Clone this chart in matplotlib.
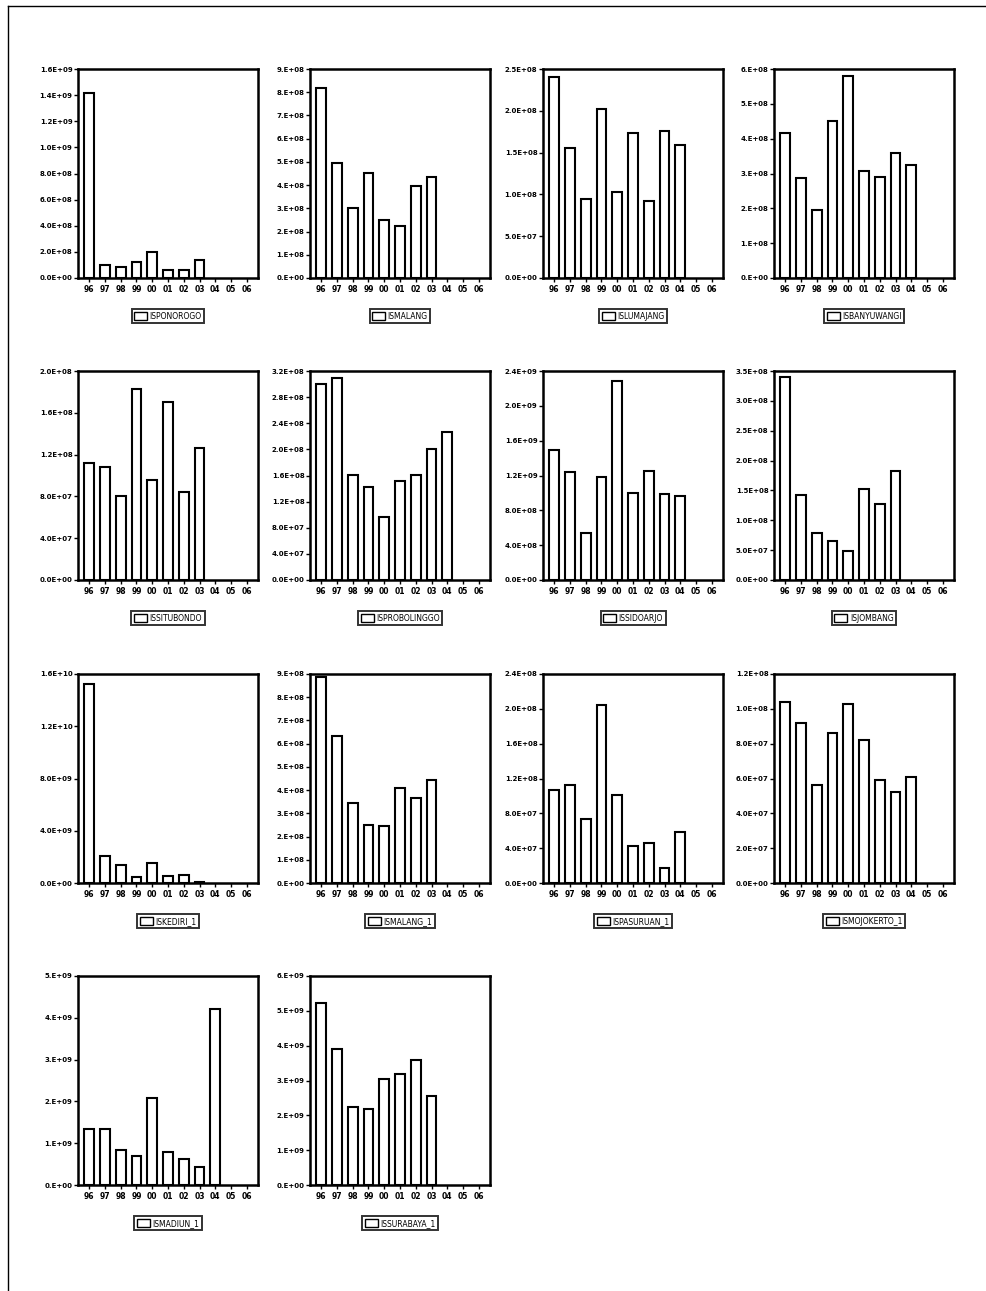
import numpy as np
import matplotlib
matplotlib.use('Agg')
import matplotlib.pyplot as plt
from matplotlib.patches import Rectangle
from matplotlib.ticker import FixedLocator, FuncFormatter

plt.rcParams['font.family'] = ['DejaVu Sans']

years = ['96', '97', '98', '99', '00', '01', '02', '03', '04', '05', '06']

names = ['ISPONOROGO', 'ISMALANG', 'ISLUMAJANG', 'ISBANYUWANGI',
         'ISSITUBONDO', 'ISPROBOLINGGO', 'ISSIDOARJO', 'ISJOMBANG',
         'ISKEDIRI_1', 'ISMALANG_1', 'ISPASURUAN_1', 'ISMOJOKERTO_1',
         'ISMADIUN_1', 'ISSURABAYA_1']

ponorogo = [1.42e9, 1.02e8, 0.82e8, 1.23e8, 2.0e8, 0.64e8, 0.61e8, 1.4e8]
malang = [8.17e8, 4.97e8, 3.01e8, 4.54e8, 2.5e8, 2.23e8, 3.96e8, 4.36e8]
lumajang = [2.4e8, 1.56e8, 0.94e8, 2.02e8, 1.03e8, 1.74e8, 0.92e8, 1.76e8, 1.59e8]
banyuwangi = [4.17e8, 2.87e8, 1.96e8, 4.5e8, 5.8e8, 3.07e8, 2.91e8, 3.6e8, 3.24e8]
situbondo = [1.12e8, 1.08e8, 0.80e8, 1.83e8, 0.955e8, 1.70e8, 0.84e8, 1.26e8]
probolinggo = [3.0e8, 3.1e8, 1.61e8, 1.42e8, 0.97e8, 1.51e8, 1.61e8, 2.0e8, 2.26e8]
sidoarjo = [1.49e9, 1.24e9, 0.54e9, 1.18e9, 2.28e9, 1.0e9, 1.25e9, 0.99e9, 0.97e9]
jombang = [3.40e8, 1.42e8, 0.79e8, 0.65e8, 0.48e8, 1.52e8, 1.27e8, 1.83e8]
kediri = [1.52e10, 2.1e9, 1.34e9, 0.46e9, 1.52e9, 0.5e9, 0.63e9, 0.06e9]
malang_1 = [8.87e8, 6.33e8, 3.43e8, 2.5e8, 2.46e8, 4.09e8, 3.67e8, 4.42e8]
pasuruan = [1.07e8, 1.12e8, 0.74e8, 2.04e8, 1.01e8, 0.42e8, 0.46e8, 0.17e8, 0.59e8]
mojokerto = [1.04e8, 0.92e8, 0.56e8, 0.86e8, 1.03e8, 0.82e8, 0.59e8, 0.52e8, 0.61e8]
madiun = [1.33e9, 1.35e9, 0.84e9, 0.70e9, 2.07e9, 0.80e9, 0.62e9, 0.42e9, 4.2e9]
surabaya = [5.23e9, 3.89e9, 2.25e9, 2.19e9, 3.04e9, 3.2e9, 3.6e9, 2.55e9]

series = [ponorogo, malang, lumajang, banyuwangi, situbondo, probolinggo,
          sidoarjo, jombang, kediri, malang_1, pasuruan, mojokerto,
          madiun, surabaya]

# y axis: top, step, decimals in the mantissa
ymax = [1.6e9, 9e8, 2.5e8, 6e8, 2.0e8, 3.2e8, 2.4e9, 3.5e8,
        1.6e10, 9e8, 2.4e8, 1.2e8, 5e9, 6e9]
ystep = [2e8, 1e8, 5e7, 1e8, 4e7, 4e7, 4e8, 5e7,
         4e9, 1e8, 4e7, 2e7, 1e9, 1e9]
ydec = [1, 0, 1, 0, 1, 1, 1, 1, 1, 0, 1, 1, 0, 0]


def sci(v, dec):
    if v == 0:
        e, m = 0, 0.0
    else:
        e = int(np.floor(np.log10(abs(v)) + 1e-9))
        m = v / 10 ** e
    if dec == 0:
        return '%d.E+%02d' % (round(m), e)
    return '%.1fE+%02d' % (m, e)


W, H = 987, 1291
fig = plt.figure(figsize=(W / 100, H / 100), dpi=100)
fig.patch.set_facecolor('white')

tops = [69, 371, 674, 976]
lefts = [78, 310, 543, 774]
aw, ah = 180, 209

x = np.arange(len(years))
for i, vals in enumerate(series):
    r, c = divmod(i, 4)
    ax = fig.add_axes([lefts[c] / W, 1 - (tops[r] + ah) / H, aw / W, ah / H])
    ax.bar(x[:len(vals)], vals, width=0.62, facecolor='white',
           edgecolor='black', linewidth=1.5)
    ax.set_xlim(-0.7, 10.7)
    ax.set_ylim(0, ymax[i])
    ax.set_xticks(x)
    ax.set_xticklabels(years, fontsize=5.5, fontweight='bold')
    ticks = np.arange(0, ymax[i] + ystep[i] / 2, ystep[i])
    ax.yaxis.set_major_locator(FixedLocator(ticks))
    d = ydec[i]
    ax.yaxis.set_major_formatter(FuncFormatter(lambda v, p, d=d: sci(v, d)))
    ax.tick_params(axis='y', labelsize=5, length=3, width=1, pad=1)
    ax.tick_params(axis='x', length=3, width=1, pad=2)
    for lab in ax.get_yticklabels():
        lab.set_fontweight('bold')
    for s in ax.spines.values():
        s.set_linewidth(1.8)
    h = Rectangle((0, 0), 1, 1, facecolor='white', edgecolor='black', linewidth=1)
    leg = ax.legend([h], [names[i]], loc='upper center',
                    bbox_to_anchor=(0.5, -0.13), fontsize=5.5, frameon=True,
                    fancybox=False, handlelength=1.7, handleheight=1.3,
                    borderpad=0.35, handletextpad=0.3)
    leg.get_frame().set_edgecolor('black')
    leg.get_frame().set_linewidth(1.4)

# scan border
fig.add_artist(plt.Line2D([8 / W, 8 / W], [0, 1 - 6 / H], color='black', lw=1))
fig.add_artist(plt.Line2D([8 / W, 1], [1 - 6 / H, 1 - 6 / H], color='black', lw=1))

fig.savefig('out.png', dpi=100)
